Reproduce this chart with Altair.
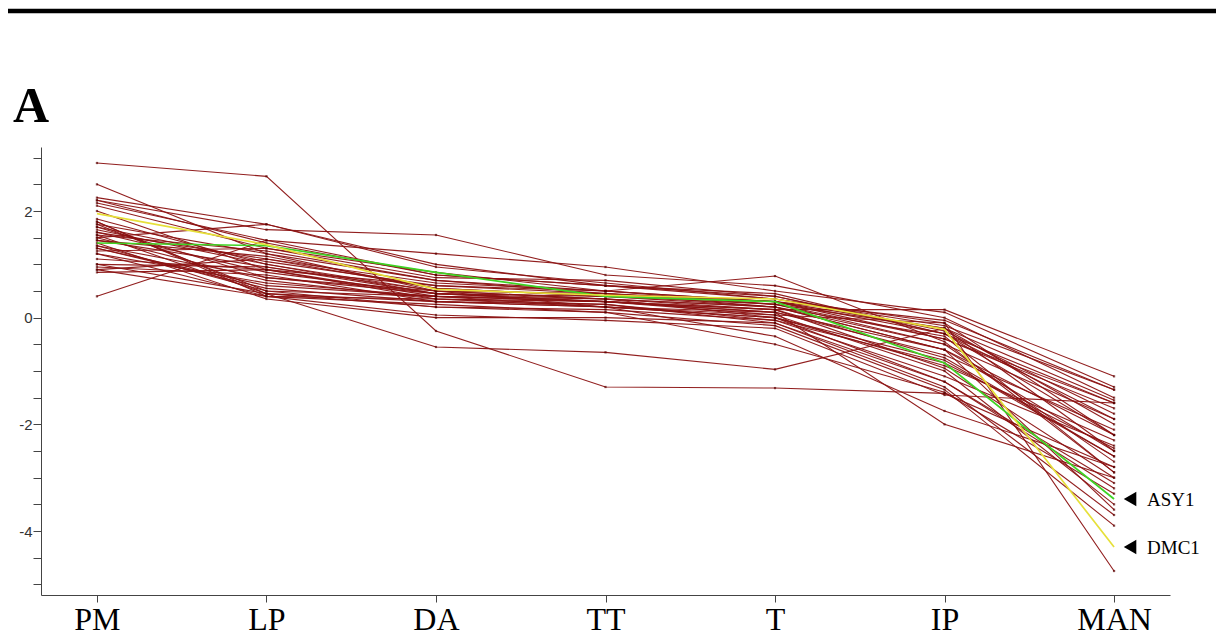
import altair as alt
import pandas as pd

stages = ["PM", "LP", "DA", "TT", "T", "IP", "MAN"]

s01 = [2.90, 2.65, -0.25, -1.30, -1.32, -1.42, -2.80]
s02 = [2.50, 1.20, 0.50, 0.35, 0.20, -0.60, -2.50]
s03 = [2.25, 1.75, 1.00, 0.60, 0.45, -0.30, -1.60]
s04 = [2.20, 1.65, 1.55, 0.80, 0.60, 0.00, -1.50]
s05 = [2.15, 1.45, 1.20, 0.95, 0.50, 0.10, -1.30]
s06 = [2.10, 1.30, 0.75, 0.70, 0.40, -0.25, -1.80]
s07 = [1.85, 1.00, 0.45, 0.40, 0.30, -0.20, -2.00]
s08 = [1.80, 0.40, 0.35, 0.30, 0.10, -0.60, -2.20]
s09 = [1.75, 0.50, 0.40, 0.35, 0.00, -0.80, -2.60]
s10 = [1.70, 1.05, 0.60, 0.45, 0.20, -0.35, -2.90]
s11 = [1.60, 0.85, 0.45, 0.30, 0.15, -0.95, -3.00]
s12 = [1.55, 0.45, 0.30, 0.25, -0.05, -1.10, -2.40]
s13 = [1.50, 1.75, 0.95, 0.65, 0.35, -0.15, -1.35]
s14 = [1.45, 1.15, 0.55, 0.40, 0.25, -0.50, -2.70]
s15 = [1.40, 0.35, 0.00, 0.00, -0.10, -1.20, -3.20]
s16 = [1.35, 0.75, 0.50, 0.45, 0.30, -0.40, -1.70]
s17 = [1.30, 0.60, 0.40, 0.30, 0.10, -0.70, -2.10]
s18 = [1.25, 1.30, 0.85, 0.50, 0.30, -0.30, -1.90]
s19 = [1.20, 0.40, 0.05, -0.05, -0.20, -1.45, -1.60]
s20 = [1.10, 0.90, 0.40, 0.30, 0.05, -1.00, -3.50]
s21 = [1.00, 0.95, 0.50, 0.20, 0.00, -0.90, -2.30]
s22 = [0.95, 0.80, 0.30, 0.20, 0.00, -1.20, -3.10]
s23 = [0.90, 1.10, 0.65, 0.50, 0.25, -0.20, -1.55]
s24 = [0.85, 0.90, 0.35, 0.25, -0.10, -1.30, -3.70]
s25 = [0.40, 1.45, 0.80, 0.60, 0.40, -0.30, -2.20]
s26 = [1.80, 0.45, -0.55, -0.65, -0.97, -0.20, -2.50]
s27 = [2.00, 0.90, 0.60, 0.50, 0.78, -0.45, -2.90]
s28 = [1.65, 1.00, 0.50, 0.35, 0.15, 0.15, -1.10]
s29 = [1.50, 0.70, 0.35, 0.20, 0.05, -0.10, -4.75]
s30 = [1.30, 0.55, 0.30, 0.20, 0.10, -2.00, -3.00]
s31 = [1.20, 0.65, 0.40, 0.20, -0.35, -1.75, -2.80]
s32 = [1.75, 1.20, 0.70, 0.50, 0.30, -0.05, -1.35]
s33 = [1.60, 1.10, 0.55, 0.40, 0.20, -0.50, -1.90]
s34 = [1.45, 0.95, 0.45, 0.30, 0.15, -0.75, -2.60]
s35 = [1.00, 0.45, 0.20, 0.10, -0.15, -1.35, -3.90]
s36 = [0.90, 0.40, 0.25, 0.10, -0.50, -1.40, -3.30]
s37 = [2.20, 1.40, 0.80, 0.60, 0.35, -0.10, -2.20]
s38 = [1.70, 0.75, 0.45, 0.35, 0.20, -0.60, -3.60]
s39 = [1.35, 0.50, 0.20, 0.15, -0.05, -0.85, -2.45]
s40 = [1.55, 1.25, 0.70, 0.45, 0.25, -0.40, -1.60]

asy1 = [1.40, 1.35, 0.85, 0.40, 0.30, -0.85, -3.40]
dmc1 = [1.95, 1.37, 0.53, 0.42, 0.35, -0.22, -4.30]

panel_label = "A"

others = [s01, s02, s03, s04, s05, s06, s07, s08, s09, s10,
          s11, s12, s13, s14, s15, s16, s17, s18, s19, s20,
          s21, s22, s23, s24, s25, s26, s27, s28, s29, s30,
          s31, s32, s33, s34, s35, s36, s37, s38, s39, s40]

rows = []
for i, s in enumerate(others):
    for st, v in zip(stages, s):
        rows.append({"gene": f"g{i+1:02d}", "stage": st, "value": v})
bg = pd.DataFrame(rows)

hl_rows = []
for name, s in [("ASY1", asy1), ("DMC1", dmc1)]:
    for st, v in zip(stages, s):
        hl_rows.append({"gene": name, "stage": st, "value": v})
hl = pd.DataFrame(hl_rows)

ann = pd.DataFrame({"gene": ["ASY1", "DMC1"], "stage": ["MAN", "MAN"],
                    "value": [asy1[-1], dmc1[-1]]})

xs = alt.X("stage:N", sort=stages,
           scale=alt.Scale(type="point", padding=0.33),
           axis=alt.Axis(title=None, labelAngle=0, labelFont="Liberation Serif",
                         labelFontSize=32, labelColor="#000", tickSize=7,
                         tickColor="#444", domainColor="#444", labelPadding=2))
ys = alt.Y("value:Q", scale=alt.Scale(domain=[-5.2, 3.2], nice=False, zero=False),
           axis=alt.Axis(title=None, values=[-5 + 0.5 * k for k in range(17)],
                         labelExpr="datum.value % 2 == 0 ? toString(datum.value) : ''",
                         labelFont="Liberation Sans", labelFontSize=15,
                         labelColor="#333", tickSize=8, tickColor="#444",
                         domainColor="#444", labelPadding=1))

base_bg = alt.Chart(bg)
lines_bg = base_bg.mark_line(color="#8b1212", strokeWidth=1.1, opacity=0.95).encode(
    x=xs, y=ys, detail="gene:N")
pts_bg = base_bg.mark_point(shape="square", filled=True, size=5, color="#5a0000").encode(
    x=xs, y=ys)

lines_hl = alt.Chart(hl).mark_line(strokeWidth=1.7).encode(
    x=xs, y=ys, detail="gene:N",
    color=alt.Color("gene:N", scale=alt.Scale(domain=["ASY1", "DMC1"],
                                               range=["#3ed424", "#e6e03a"]),
                    legend=None))

tri = alt.Chart(ann).mark_point(shape="triangle-left", filled=True, size=210,
                                color="#000", opacity=1, xOffset=16).encode(x=xs, y=ys)
txt = alt.Chart(ann).mark_text(align="left", baseline="middle", dx=33, dy=1,
                               font="Liberation Serif", fontSize=19,
                               color="#000").encode(x=xs, y=ys, text="gene:N")

topline = alt.Chart(pd.DataFrame({"k": [0]})).mark_rule(
    color="#000", strokeWidth=4.5).encode(
    x=alt.value(-33), x2=alt.value(1175), y=alt.value(-136))

label_a = alt.Chart(pd.DataFrame({"t": [panel_label]})).mark_text(
    align="left", baseline="alphabetic", font="Liberation Serif", fontSize=50,
    fontWeight="bold", color="#000").encode(
    x=alt.value(-28), y=alt.value(-25), text="t:N")

chart = alt.layer(topline, label_a, lines_bg, pts_bg, lines_hl, tri, txt).properties(
    width=1129, height=448,
    autosize=alt.AutoSizeParams(type="none"),
    padding={"left": 33, "top": 139, "right": 46, "bottom": 46},
).configure_view(stroke=None).configure_axis(grid=False)

chart.save("out.html", embed_options={"renderer": "svg", "actions": False})
